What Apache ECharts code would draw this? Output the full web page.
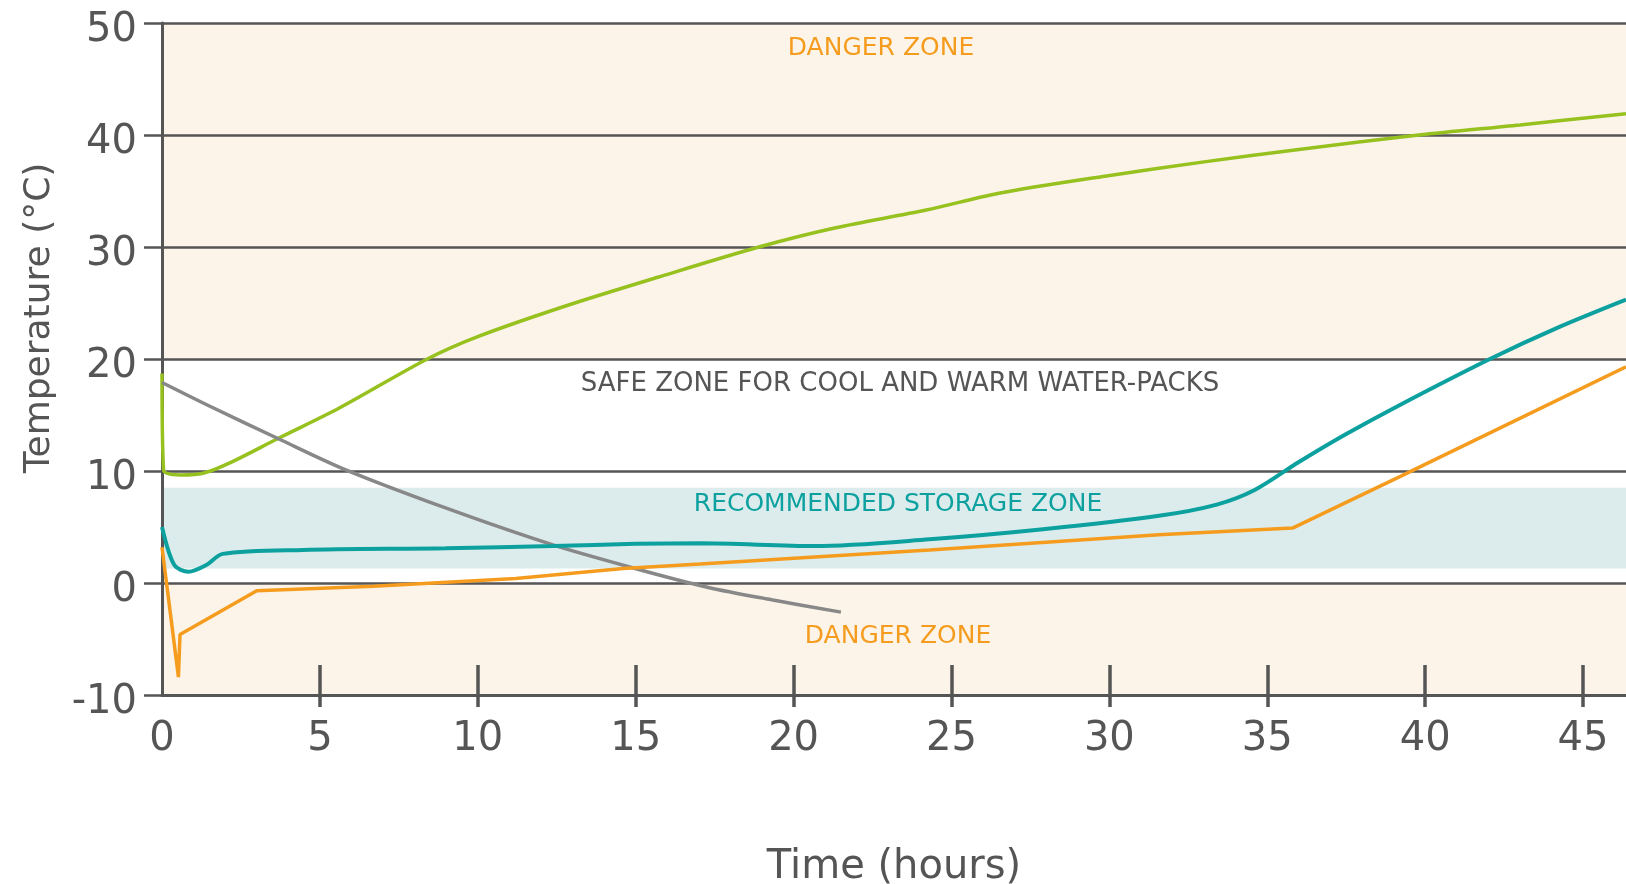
<!DOCTYPE html>
<html>
<head>
<meta charset="utf-8">
<script src="https://cdn.jsdelivr.net/npm/echarts@6/dist/echarts.min.js"></script>
<style>
  html, body { margin: 0; padding: 0; background: #fff; }
  #chart { width: 1626px; height: 884px; }
</style>
</head>
<body>
<div id="chart"></div>
<script>
// Temperature curves, [hours, °C]
const greenPack = [[0, 18.7], [0.05, 10.1], [0.6, 9.65], [1.3, 9.8], [2.2, 10.8], [3.67, 12.9], [5.6, 15.6],
  [8.4, 20], [10, 22], [12.85, 24.8], [15.7, 27.3], [18.9, 30], [21.3, 31.7], [24.2, 33.3], [26.5, 34.8],
  [29.8, 36.3], [33, 37.6], [36, 38.7], [39.8, 40], [43, 40.9], [46.36, 41.9]];
const grayPack = [[0, 17.9], [1.5, 15.8], [3.67, 12.9], [5.82, 10.1], [8.98, 6.7], [12.38, 3.4], [14.98, 1.3],
  [17.3, -0.4], [19.3, -1.5], [21.5, -2.6]];
const tealPack = [[0, 5.0], [0.39, 1.6], [0.84, 1.0], [1.4, 1.6], [1.92, 2.6], [4.46, 2.95], [8.98, 3.1],
  [12.38, 3.3], [15, 3.5], [17.04, 3.55], [20.67, 3.3], [24.3, 3.9], [27.9, 4.8], [31.57, 6.0], [33.4, 7.0],
  [34.6, 8.3], [36.0, 10.8], [37.5, 13.3], [39.2, 15.9], [42.05, 20], [44.2, 22.8], [46.36, 25.3]];
const orangePack = [[0, 3.2], [0.52, -8.4], [0.57, -4.6], [3.0, -0.7], [6.7, -0.3], [11.2, 0.4], [14.6, 1.3],
  [17.04, 1.7], [24.3, 2.95], [31.57, 4.3], [35.8, 4.9], [39.2, 9.5], [46.36, 19.3]];

// zones (°C): danger top, danger bottom, recommended storage
const zoneLow = [20, -10, 1.3];
const zoneHigh = [50, 0, 8.5];

// axes
const xMin = 0, xMax = 46.36;
const xTickValues = [5, 10, 15, 20, 25, 30, 35, 40, 45];
const yMin = -10, yMax = 50;

const FONT = 'DejaVu Sans';
const AXIS_COLOR = '#555555';
const bandColors = ['#fdf4e9', '#fdf4e9', '#dcecec'];

const chart = echarts.init(document.getElementById('chart'), null, { renderer: 'canvas' });

function lineSeries(name, data, color, width, smooth) {
  return {
    name: name,
    type: 'line',
    z: 3,
    data: data,
    showSymbol: false,
    smooth: smooth,
    lineStyle: { color: color, width: width },
    itemStyle: { color: color },
    silent: true
  };
}

const option = {
  animation: false,
  textStyle: { fontFamily: FONT },
  grid: { left: 162, right: 0, top: 23, bottom: 189, containLabel: false, outerBoundsMode: 'none' },
  xAxis: [
    {
      type: 'value', min: xMin, max: xMax, interval: 5, z: 1,
      axisLine: { show: true, onZero: false, lineStyle: { color: AXIS_COLOR, width: 3 } },
      axisTick: { show: true, inside: true, length: 30, customValues: xTickValues,
        lineStyle: { color: AXIS_COLOR, width: 3.5 } },
      axisLabel: { show: true, fontSize: 40, color: AXIS_COLOR, margin: 25, fontFamily: FONT,
        showMaxLabel: false },
      splitLine: { show: false },
      name: 'Time (hours)', nameLocation: 'middle', nameGap: 153,
      nameTextStyle: { fontSize: 40, color: AXIS_COLOR, fontFamily: FONT }
    },
    {
      type: 'value', min: xMin, max: xMax, interval: 5, z: 1, position: 'bottom',
      axisLine: { show: false, onZero: false },
      axisTick: { show: true, inside: false, length: 12, customValues: xTickValues,
        lineStyle: { color: AXIS_COLOR, width: 3.5 } },
      axisLabel: { show: false },
      splitLine: { show: false }
    }
  ],
  yAxis: {
    type: 'value', min: yMin, max: yMax, interval: 10, z: 1,
    axisLine: { show: true, onZero: false, lineStyle: { color: AXIS_COLOR, width: 3 } },
    axisTick: { show: true, length: 18, lineStyle: { color: AXIS_COLOR, width: 2.5 } },
    splitLine: { show: true, lineStyle: { color: AXIS_COLOR, width: 2.5 } },
    axisLabel: { fontSize: 40, color: AXIS_COLOR, margin: 25, fontFamily: FONT,
      verticalAlign: 'top', lineHeight: 15 },
    name: 'Temperature (°C)', nameLocation: 'middle', nameGap: 104,
    nameTextStyle: { fontSize: 36, color: AXIS_COLOR, fontFamily: FONT, padding: [0, 0, 0, 82] }
  },
  series: [
    {
      type: 'custom',
      z: 0,
      silent: true,
      data: zoneLow.map((lo, i) => [lo, zoneHigh[i], i]),
      renderItem: function (params, api) {
        const lo = api.value(0), hi = api.value(1);
        const p1 = api.coord([xMin, hi]);
        const p2 = api.coord([xMax, lo]);
        return {
          type: 'rect',
          shape: { x: p1[0], y: p1[1], width: p2[0] - p1[0], height: p2[1] - p1[1] },
          style: { fill: bandColors[api.value(2)] }
        };
      }
    },
    lineSeries('Green pack', greenPack, '#96c11f', 3.5, 0.3),
    lineSeries('Gray pack', grayPack, '#888888', 3.5, 0.3),
    lineSeries('Teal pack', tealPack, '#0ca19f', 4, 0.3),
    lineSeries('Orange pack', orangePack, '#f59c1e', 3.5, false)
  ],
  graphic: [
    { type: 'text', z: 10, silent: true, x: 881, y: 48,
      style: { text: 'DANGER ZONE', fill: '#f59c1e', font: '25px "DejaVu Sans"', align: 'center', verticalAlign: 'middle' } },
    { type: 'text', z: 10, silent: true, x: 900, y: 384,
      style: { text: 'SAFE ZONE FOR COOL AND WARM WATER-PACKS', fill: '#555555', font: '26px "DejaVu Sans"', align: 'center', verticalAlign: 'middle' } },
    { type: 'text', z: 10, silent: true, x: 898, y: 504,
      style: { text: 'RECOMMENDED STORAGE ZONE', fill: '#0ca19f', font: '25px "DejaVu Sans"', align: 'center', verticalAlign: 'middle' } },
    { type: 'text', z: 10, silent: true, x: 898, y: 636,
      style: { text: 'DANGER ZONE', fill: '#f59c1e', font: '25px "DejaVu Sans"', align: 'center', verticalAlign: 'middle' } }
  ]
};

chart.setOption(option);
window.addEventListener('resize', () => chart.resize());
</script>
</body>
</html>
